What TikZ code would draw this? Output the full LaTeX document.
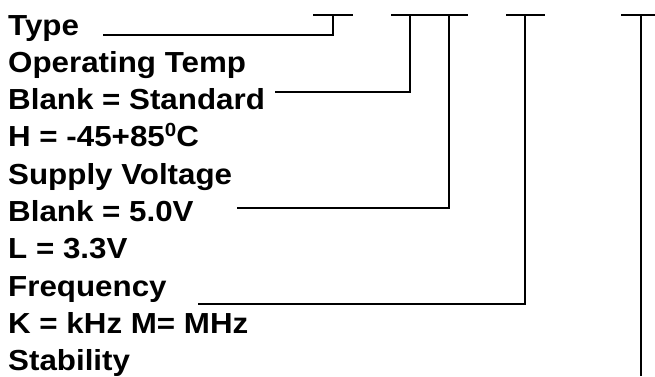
\documentclass[tikz,border=0pt]{standalone}
\usepackage{fontspec}
\setmainfont[FakeStretch=1.08]{Liberation Sans}
\usetikzlibrary{positioning}

\newcommand{\degsup}{\raisebox{10pt}{\fontsize{19}{19}\selectfont 0}}

\begin{document}
\begin{tikzpicture}[x=1pt, y=-1pt, node distance=37.3pt,
                    field/.style={inner sep=0pt, anchor=base west, font=\fontsize{29}{34}\selectfont\bfseries},
                    nextrow/.style={field, below=of #1.base west, anchor=base west},
                    lead/.style={line width=1.4pt}]
  \useasboundingbox (0,0) rectangle (655,376);
  % code fields
  \node[field] (type) at (8,35) {Type};
  \node[nextrow=type] (temp) {Operating Temp};
  \node[nextrow=temp] (tempstd) {Blank = Standard};
  \node[nextrow=tempstd] (temph) {H = -45+85\degsup C};
  \node[nextrow=temph] (supply) {Supply Voltage};
  \node[nextrow=supply] (supstd) {Blank = 5.0V};
  \node[nextrow=supstd] (suplow) {L = 3.3V};
  \node[nextrow=suplow] (freq) {Frequency};
  \node[nextrow=freq] (frequnit) {K = kHz M= MHz};
  \node[nextrow=frequnit] (stab) {Stability};
  % bars on top
  \node[coordinate] (bar1w) at (313,15) {};
  \node[coordinate] (bar1e) at (353,15) {};
  \node[coordinate] (bar2w) at (391,15) {};
  \node[coordinate] (bar2e) at (468,15) {};
  \node[coordinate] (bar3w) at (506,15) {};
  \node[coordinate] (bar3e) at (545,15) {};
  \node[coordinate] (bar4w) at (621,15) {};
  \node[coordinate] (bar4e) at (660,15) {};
  \draw[lead] (bar1w) -- (bar1e);
  \draw[lead] (bar2w) -- (bar2e);
  \draw[lead] (bar3w) -- (bar3e);
  \draw[lead] (bar4w) -- (bar4e);
  % leads
  \node[coordinate] (typeend) at (103,35) {};
  \node[coordinate] (tempend) at (275,92) {};
  \node[coordinate] (supend) at (237,208) {};
  \node[coordinate] (freqend) at (198,304) {};
  \node[coordinate] (stabend) at (641,376) {};
  \draw[lead] (typeend) -| (333,15);
  \draw[lead] (tempend) -| (410,15);
  \draw[lead] (supend) -| (449,15);
  \draw[lead] (freqend) -| (525,15);
  \draw[lead] (stabend) -- (641,15);
\end{tikzpicture}
\end{document}
